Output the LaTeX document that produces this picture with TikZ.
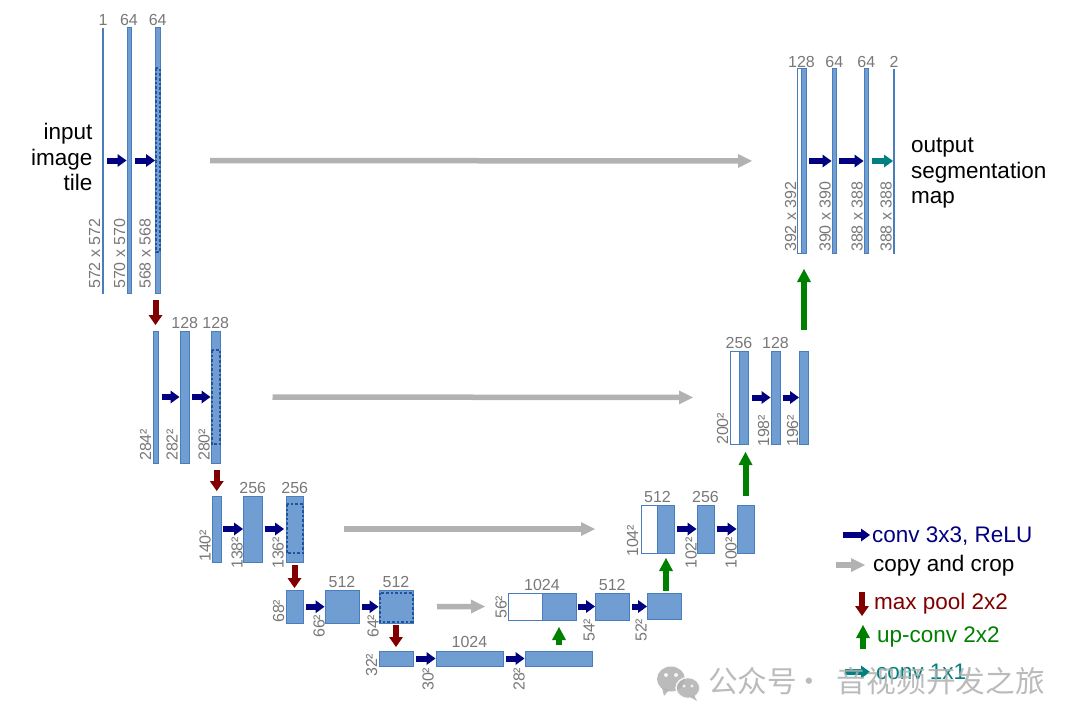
\documentclass[tikz,border=0pt]{standalone}
\usepackage{fontspec}
\setmainfont{Liberation Sans}
\newfontfamily\cjk{Noto Sans CJK SC}
\usetikzlibrary{arrows.meta,calc}
\definecolor{barfill}{RGB}{112,158,210}
\definecolor{barline}{RGB}{72,125,190}
\definecolor{cropline}{RGB}{32,82,160}
\definecolor{navyc}{RGB}{0,0,128}
\definecolor{poolc}{RGB}{128,0,0}
\definecolor{upc}{RGB}{0,128,0}
\definecolor{tealc}{RGB}{0,128,128}
\definecolor{copyc}{RGB}{178,178,178}
\definecolor{lblc}{RGB}{120,120,120}
\definecolor{wmgray}{RGB}{175,175,175}
\newcommand\fmap[6][]{\node[fm,#1,minimum width={(#5-#3)*1pt},minimum height={(#6-#4)*1pt},anchor=north west] (#2) at (#3,#4) {};}
\newcommand\szl[4]{\node[szlab] (#1) at (#2,#3) {#4};}
\begin{document}
\begin{tikzpicture}[x=1pt,y=-1pt,
  fm/.style={rectangle,draw=barline,fill=barfill,line width=1pt,inner sep=0pt,outer sep=0pt},
  fmw/.style={fill=white},
  thinbar/.style={line width=0.8pt,fill=barline},
  cropbox/.style={draw=cropline,line width=2pt,dash pattern=on 2.6pt off 2pt},
  convarr/.style={draw=navyc,line width=6pt,-{Triangle[length=9pt,width=13pt,line width=0pt]},shorten <=2.5pt,shorten >=0.5pt},
  c11arr/.style={convarr,draw=tealc},
  copyarr/.style={draw=copyc,line width=5.5pt,-{Triangle[length=14pt,width=14pt,line width=0pt]}},
  poolarr/.style={draw=poolc,line width=6pt,-{Triangle[length=10pt,width=14pt,line width=0pt]}},
  uparr/.style={draw=upc,line width=6pt,-{Triangle[length=13pt,width=14pt,line width=0pt]}},
  chlab/.style={font=\fontsize{16pt}{16pt}\selectfont,text=lblc,anchor=base,inner sep=0pt},
  szlab/.style={font=\fontsize{16pt}{16pt}\selectfont,text=lblc,rotate=90,anchor=base west,inner sep=0pt},
  bigtxt/.style={font=\fontsize{22.5pt}{25.5pt}\selectfont,text=black,inner sep=0pt},
  leg/.style={font=\fontsize{22.5pt}{25.5pt}\selectfont,anchor=base west,inner sep=0pt}
]
\useasboundingbox (0,0) rectangle (1080,725);

% ---------- contracting path ----------
\fmap[thinbar]{A1}{102.5}{28}{103.5}{293}
\fmap{A2}{127}{28}{131}{293}
\fmap{A3}{155.5}{28}{160}{293}
\draw[cropbox] (156,68) rectangle (159.5,252);

\fmap{B1}{153}{331}{158}{463}
\fmap{B2}{180}{331}{189.5}{463}
\fmap{B3}{211}{331}{220.5}{463}
\draw[cropbox] (211.5,350) rectangle (220,444);

\fmap{C1}{212}{496}{221.5}{562}
\fmap{C2}{243.5}{496}{262}{562}
\fmap{C3}{286}{496}{303.5}{562}
\draw[cropbox] (286.5,504) rectangle (303,553);

\fmap{D1}{286}{590.5}{303}{623}
\fmap{D2}{325}{590.5}{359}{623}
\fmap{D3}{379}{590.5}{413}{623}
\draw[cropbox] (379.5,592.5) rectangle (412.5,621.5);

\fmap{E1}{379}{651}{413}{666}
\fmap{E2}{436}{651}{503}{666}
\fmap{E3}{525}{651}{592.5}{666}

% ---------- expanding path ----------
\fmap[fmw]{F1w}{508}{593}{542}{620}
\fmap{F1b}{542}{593}{576}{620}
\fmap{F2}{595.5}{593}{629}{620}
\fmap{F3}{647.5}{593.5}{681}{619.5}

\fmap[fmw]{G1w}{641}{505}{657.5}{553}
\fmap{G1b}{657.5}{505}{674.5}{553}
\fmap{G2}{697}{505}{714}{553}
\fmap{G3}{737}{505}{754}{553}

\fmap[fmw]{H1w}{730}{351}{739}{444}
\fmap{H1b}{739}{351}{748.5}{444}
\fmap{H2}{771}{351}{780}{444}
\fmap{H3}{799.5}{351}{808.5}{444}

\fmap[fmw]{I1w}{797}{69}{801.5}{253}
\fmap{I1b}{801.5}{69}{806.5}{253}
\fmap{I2}{832}{69}{836.5}{253}
\fmap{I3}{864}{69}{868.5}{253}
\fmap[thinbar]{I4}{893.5}{69}{894.5}{253}

% ---------- conv 3x3 arrows ----------
\draw[convarr,shorten <=3.5pt] (A1) -- (A2);
\draw[convarr,shorten <=4pt] (A2) -- (A3);
\draw[convarr,shorten <=4pt] (B1) -- (B2);
\draw[convarr] (B2) -- (B3);
\draw[convarr,shorten <=1.5pt] (C1) -- (C2);
\draw[convarr,shorten >=2pt] (C2) -- (C3);
\draw[convarr] (D1) -- (D2);
\draw[convarr] (D2) -- (D3);
\draw[convarr] (E1) -- (E2);
\draw[convarr] (E2) -- (E3);
\draw[convarr,shorten <=1.5pt] (F1b) -- (F2);
\draw[convarr] (F2) -- (F3);
\draw[convarr] (G1b) -- (G2);
\draw[convarr] (G2) -- (G3);
\draw[convarr,shorten <=3.5pt] (H1b) -- (H2);
\draw[convarr] (H2) -- (H3);
\draw[convarr] (I1b) -- (I2);
\draw[convarr] (I2) -- (I3);
\draw[c11arr,shorten <=3.5pt] (I3) -- (I4);

% ---------- copy and crop ----------
\draw[copyarr,shorten <=50pt,shorten >=45pt] (A3) -- (I1w);
\draw[copyarr,shorten <=52pt,shorten >=37pt] (B3) -- (H1w);
\draw[copyarr,shorten <=40.5pt,shorten >=46pt] (C3) -- (G1w);
\draw[copyarr,shorten <=24pt,shorten >=23pt] (D3) -- (F1w);

% ---------- max pool ----------
\draw[poolarr,shorten <=7pt,shorten >=6pt] (A3.south -| B1.north) -- (B1.north);
\draw[poolarr,shorten <=7pt,shorten >=5pt] (B3.south -| C1.north) -- (C1.north);
\draw[poolarr,shorten <=3pt,shorten >=2.5pt] (C3.south -| D1.north) -- (D1.north);
\draw[poolarr,shorten <=2pt,shorten >=4pt] (D3.south -| E1.north) -- (E1.north);

% ---------- up-conv ----------
\draw[uparr,shorten <=6pt,shorten >=7pt] (E3.north -| F1b.south) -- (F1b.south);
\draw[uparr,shorten <=2.5pt,shorten >=5pt] (F3.north -| G1b.south) -- (G1b.south);
\draw[uparr,shorten <=9pt,shorten >=8pt] (G3.north) -- (G3.north |- H1b.south);
\draw[uparr,shorten <=21pt,shorten >=16pt] (H3.north) -- (H3.north |- I1b.south);

% ---------- channel labels ----------
\node[chlab] (tA1) at ([yshift=2pt]A1.north) {1};
\node[chlab] (tA2) at ([yshift=2pt]A2.north) {64};
\node[chlab] (tA3) at ([yshift=2pt]A3.north) {64};
\node[chlab] (tB2) at ([yshift=3pt]B2.north) {128};
\node[chlab] (tB3) at ([yshift=3pt]B3.north) {128};
\node[chlab] (tC2) at ([yshift=3pt]C2.north) {256};
\node[chlab] (tC3) at ([yshift=3pt]C3.north) {256};
\node[chlab] (tD2) at ([yshift=3pt]D2.north) {512};
\node[chlab] (tD3) at ([yshift=3pt]D3.north) {512};
\node[chlab] (tE2) at ([yshift=4pt]E2.north) {1024};
\node[chlab] (tF1) at ([yshift=3pt]F1w.north east) {1024};
\node[chlab] (tF2) at ([yshift=3pt]F2.north) {512};
\node[chlab] (tG1) at ([yshift=3pt]G1w.north east) {512};
\node[chlab] (tG2) at ([yshift=3pt]G2.north) {256};
\node[chlab] (tH1) at ([yshift=3pt]H1w.north east) {256};
\node[chlab] (tH2) at ([yshift=3pt]H2.north) {128};
\node[chlab] (tI1) at ([yshift=2pt]I1w.north east) {128};
\node[chlab] (tI2) at ([yshift=2pt]I2.north) {64};
\node[chlab] (tI3) at ([yshift=2pt]I3.north) {64};
\node[chlab] (tI4) at ([yshift=2pt]I4.north) {2};

% ---------- size labels ----------
\szl{s1}{100}{289}{572 x 572}
\szl{s2}{125}{289}{570 x 570}
\szl{s3}{150.5}{289}{568 x 568}
\szl{s4}{796}{252}{392 x 392}
\szl{s5}{830.5}{252}{390 x 390}
\szl{s6}{862.5}{252}{388 x 388}
\szl{s7}{891.5}{252}{388 x 388}
\szl{s8}{151}{461}{284²}
\szl{s9}{177.5}{461}{282²}
\szl{s10}{209.5}{461}{280²}
\szl{s11}{728}{445}{200²}
\szl{s12}{769}{447}{198²}
\szl{s13}{798}{447}{196²}
\szl{s14}{210.5}{562}{140²}
\szl{s15}{242.5}{569}{138²}
\szl{s16}{283.5}{569}{136²}
\szl{s17}{638}{557}{104²}
\szl{s18}{696.5}{569}{102²}
\szl{s19}{736.5}{569}{100²}
\szl{s20}{284}{623}{68²}
\szl{s21}{324.5}{638}{66²}
\szl{s22}{378.5}{638}{64²}
\szl{s23}{506.5}{619}{56²}
\szl{s24}{594.5}{642}{54²}
\szl{s25}{646.5}{642}{52²}
\szl{s26}{377}{677}{32²}
\szl{s27}{433.5}{691}{30²}
\szl{s28}{524.5}{691}{28²}

% ---------- texts ----------
\node[bigtxt,align=right,anchor=north east] (inp) at (92.5,123) {input\\image\\tile};
\node[bigtxt,align=left,anchor=north west] (outp) at (911,138) {output\\segmentation\\map};

% ---------- legend ----------
\node[leg,text=navyc] (L1) at (872,542) {conv 3x3, ReLU};
\node[leg,text=black] (L2) at (873,571) {copy and crop};
\node[leg,text=poolc] (L3) at (874,609) {max pool 2x2};
\node[leg,text=upc] (L4) at (877,642) {up-conv 2x2};
\node[leg,text=tealc] (L5) at (876,679) {conv 1x1};
\coordinate (k1) at (843,535);
\coordinate (k2) at (836,565);
\coordinate (k3a) at (862,592);
\coordinate (k3b) at (862,616);
\coordinate (k4a) at (863,649);
\coordinate (k4b) at (863,625);
\coordinate (k5) at (845,672);
\draw[convarr,shorten <=0pt,shorten >=2pt] (k1) -- (k1 -| L1.west);
\draw[copyarr,shorten >=8pt] (k2) -- (k2 -| L2.west);
\draw[poolarr] (k3a) -- (k3b);
\draw[uparr] (k4a) -- (k4b);
\draw[c11arr,shorten <=0pt,shorten >=6pt] (k5) -- (k5 -| L5.west);

% ---------- watermark ----------
\begin{scope}[opacity=0.85]
\fill[wmgray] (671,679) ellipse [x radius=14pt, y radius=12.5pt];
\fill[wmgray] (662,688) -- (664,696) -- (669,690) -- cycle;
\filldraw[fill=wmgray,draw=white,line width=1.5pt] (688,688) ellipse [x radius=12pt, y radius=10.5pt];
\fill[wmgray] (694,695) -- (697,701) -- (690,697) -- cycle;
\fill[white] (666,675) circle [radius=2pt] (676,675) circle [radius=2pt];
\fill[white] (684,686) circle [radius=1.6pt] (692,686) circle [radius=1.6pt];
\node[anchor=west,inner sep=0pt,text=wmgray,font=\cjk\fontsize{29.7pt}{30pt}\selectfont] (wm) at (708,681) {公众号\hspace{-3pt}·\hspace{13pt}音视频开发之旅};
\end{scope}
\end{tikzpicture}
\end{document}
